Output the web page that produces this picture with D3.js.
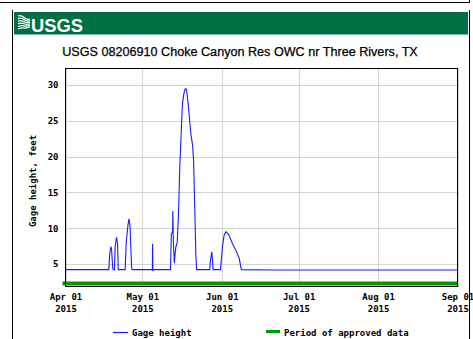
<!DOCTYPE html>
<html>
<head>
<meta charset="utf-8">
<script src="https://cdn.jsdelivr.net/npm/d3@7"></script>
<style>
  html, body { margin: 0; padding: 0; background: #fff; }
  svg { display: block; }
</style>
</head>
<body>
<svg id="chart" width="473" height="339"></svg>
<script>
// Gage height readings: [days since 2015-04-01, feet]
const gageDays = [
  0, 16.5, 16.9, 17.3, 17.7, 18.0, 18.4, 18.6, 19.1, 19.4, 19.9, 20.3, 20.6,
  23.3, 23.7, 24.4, 24.8, 25.2, 25.8, 26.0, 33.9, 34.0, 34.1, 34.3,
  41.0, 41.3, 41.8, 41.9, 42.1, 42.5, 42.8, 43.1, 43.6, 44.1, 44.6, 45.1, 45.6,
  46.1, 46.6, 47.0, 47.3, 47.9, 48.6, 49.0, 49.6, 50.0, 50.5, 50.9, 51.2,
  56.3, 56.6, 57.1, 57.4, 57.6,
  60.5, 61.3, 61.9, 62.6, 63.7, 65.1, 66.7, 67.8, 68.6,
  80, 95, 110, 125, 140, 153
];
const gageFeet = [
  4.2, 4.2, 4.2, 6.5, 7.4, 7.0, 4.6, 4.2, 4.2, 7.5, 8.7, 8.0, 4.2,
  4.2, 8.0, 10.5, 11.3, 10.2, 4.5, 4.2, 4.2, 7.8, 4.0, 4.2,
  4.2, 9.2, 9.5, 12.4, 8.0, 5.1, 6.5, 7.4, 8.0, 12.0, 18.4, 22.8, 27.2,
  28.6, 29.4, 29.5, 29.2, 27.3, 24.5, 23.0, 21.6, 19.4, 12.0, 6.0, 4.2,
  4.2, 5.5, 6.7, 5.5, 4.2,
  4.2, 7.5, 9.0, 9.5, 9.1, 7.9, 6.75, 5.8, 4.2,
  4.15, 4.15, 4.15, 4.15, 4.15, 4.15
];
const approvedPeriod = ["2015-04-01", "2015-09-01"];
const monthTicks = ["2015-04-01", "2015-05-01", "2015-06-01", "2015-07-01", "2015-08-01", "2015-09-01"];
const yTicks = [5, 10, 15, 20, 25, 30];
const titleText = "USGS 08206910 Choke Canyon Res OWC nr Three Rivers, TX";
const yLabel = "Gage height, feet";
const legendItems = ["Gage height", "Period of approved data"];

const parse = d3.utcParse("%Y-%m-%d");
const start = parse("2015-04-01");
const dayMs = 864e5;
const readings = gageDays.map((d, i) => ({ t: new Date(+start + d * dayMs), v: gageFeet[i] }));

const svg = d3.select("#chart");
const mono = "'DejaVu Sans Mono', monospace";
const narrow = "'Liberation Sans Narrow', 'Arial Narrow', 'Liberation Sans', sans-serif";

// page frame
svg.append("line").attr("x1", 0).attr("x2", 470).attr("y1", 2.5).attr("y2", 2.5).attr("stroke", "#000");
svg.append("line").attr("x1", 469.5).attr("x2", 469.5).attr("y1", 0).attr("y2", 3).attr("stroke", "#000");
svg.append("line").attr("x1", 12.5).attr("x2", 12.5).attr("y1", 10).attr("y2", 339).attr("stroke", "#000");
svg.append("line").attr("x1", 469.5).attr("x2", 469.5).attr("y1", 10).attr("y2", 339).attr("stroke", "#000");

// header band with logo
svg.append("rect").attr("x", 14).attr("y", 12).attr("width", 454).attr("height", 22).attr("fill", "#006f41");
svg.append("rect").attr("x", 14).attr("y", 34).attr("width", 454).attr("height", 1).attr("fill", "#7fb79d");
const logo = svg.append("g").attr("fill", "none").attr("stroke", "#fff").attr("stroke-width", 1.2);
// converging wave strokes of the emblem
[0, 1, 2, 3, 4, 5].forEach(i => {
  const y0 = 16 + i * 2.6;
  const y1 = 19 + i * 1.6;
  logo.append("path").attr("d", `M18,${y0} Q21,${y0 - 1.2} 24,${(y0 + y1) / 2} T30,${y1}`);
});
const brand = svg.append("text").attr("x", 31).attr("y", 32)
  .attr("font-family", narrow)
  .attr("font-weight", "bold").attr("font-size", 22).attr("fill", "#fff")
  .text("USGS");
const bw = brand.node().getComputedTextLength();
if (bw > 0) brand.attr("font-size", 22 * 52 / bw);

// title, sized to span its measured width
const title = svg.append("text").attr("x", 240).attr("y", 56)
  .attr("text-anchor", "middle")
  .attr("font-family", narrow)
  .attr("font-size", 15).attr("fill", "#000")
  .attr("stroke", "#000").attr("stroke-width", 0.25)
  .text(titleText);
const tw = title.node().getComputedTextLength();
if (tw > 0) title.attr("font-size", Math.min(17, 15 * 356 / tw));

// plot area
const plotLeft = 65.5, plotRight = 457.5, plotTop = 68.5, plotBottom = 286.5;
const x = d3.scaleUtc().domain([start, parse("2015-09-01")]).range([plotLeft, plotRight]);
const y = d3.scaleLinear().domain([1.84, 32.32]).range([plotBottom, plotTop]);

// grid
const grid = svg.append("g").attr("stroke", "#d4d4d4").attr("stroke-width", 1);
grid.selectAll(".hg").data(yTicks).join("line")
  .attr("x1", plotLeft).attr("x2", plotRight)
  .attr("y1", d => Math.round(y(d)) + 0.5).attr("y2", d => Math.round(y(d)) + 0.5);
grid.selectAll(".vg").data(monthTicks.map(parse)).join("line")
  .attr("y1", plotTop).attr("y2", plotBottom)
  .attr("x1", d => Math.round(x(d)) + 0.5).attr("x2", d => Math.round(x(d)) + 0.5);

// y axis labels
const yAxis = d3.axisLeft(y).tickValues(yTicks).tickSize(0).tickPadding(7).tickFormat(d3.format("d"));
const ya = svg.append("g").attr("transform", `translate(${plotLeft},0)`).call(yAxis);
ya.select(".domain").remove();
ya.selectAll("text").attr("font-family", mono).attr("font-weight", "bold").attr("font-size", 9).attr("fill", "#000");

// x axis labels (two lines)
const xAxis = d3.axisBottom(x).tickValues(monthTicks.map(parse)).tickSize(0).tickPadding(0).tickFormat(() => "");
const xa = svg.append("g").attr("transform", `translate(0,${plotBottom})`).call(xAxis);
xa.select(".domain").remove();
xa.selectAll(".tick").each(function (d) {
  const g = d3.select(this);
  g.append("text").attr("y", 13).attr("text-anchor", "middle")
    .attr("font-family", mono).attr("font-weight", "bold").attr("font-size", 9).attr("fill", "#000")
    .text(d3.utcFormat("%b %d")(d));
  g.append("text").attr("y", 25).attr("text-anchor", "middle")
    .attr("font-family", mono).attr("font-weight", "bold").attr("font-size", 9).attr("fill", "#000")
    .text(d3.utcFormat("%Y")(d));
});

// y axis title
svg.append("text")
  .attr("transform", `translate(36,181) rotate(-90)`)
  .attr("text-anchor", "middle")
  .attr("font-family", mono).attr("font-weight", "bold").attr("font-size", 9).attr("fill", "#000")
  .text(yLabel);

// approved data bar
svg.append("line")
  .attr("x1", x(parse(approvedPeriod[0])) - 3).attr("x2", x(parse(approvedPeriod[1])))
  .attr("y1", plotBottom - 3).attr("y2", plotBottom - 3)
  .attr("stroke", "#009a00").attr("stroke-width", 4);

// gage height series
const line = d3.line().x(d => x(d.t)).y(d => y(d.v));
svg.append("path").datum(readings)
  .attr("d", line)
  .attr("fill", "none").attr("stroke", "#1a1aff").attr("stroke-width", 1.1);

// plot box
svg.append("rect").attr("x", plotLeft).attr("y", plotTop).attr("width", plotRight - plotLeft).attr("height", plotBottom - plotTop)
  .attr("fill", "none").attr("stroke", "#000").attr("stroke-width", 1);

// legend
svg.append("line").attr("x1", 113).attr("x2", 128).attr("y1", 332.5).attr("y2", 332.5)
  .attr("stroke", "#1a1aff").attr("stroke-width", 1.2);
svg.append("text").attr("x", 132).attr("y", 336)
  .attr("font-family", mono).attr("font-weight", "bold").attr("font-size", 9).attr("fill", "#000")
  .text(legendItems[0]);
svg.append("line").attr("x1", 266).attr("x2", 280).attr("y1", 331.5).attr("y2", 331.5)
  .attr("stroke", "#009a00").attr("stroke-width", 3);
svg.append("text").attr("x", 284).attr("y", 336)
  .attr("font-family", mono).attr("font-weight", "bold").attr("font-size", 9).attr("fill", "#000")
  .text(legendItems[1]);
</script>
</body>
</html>
